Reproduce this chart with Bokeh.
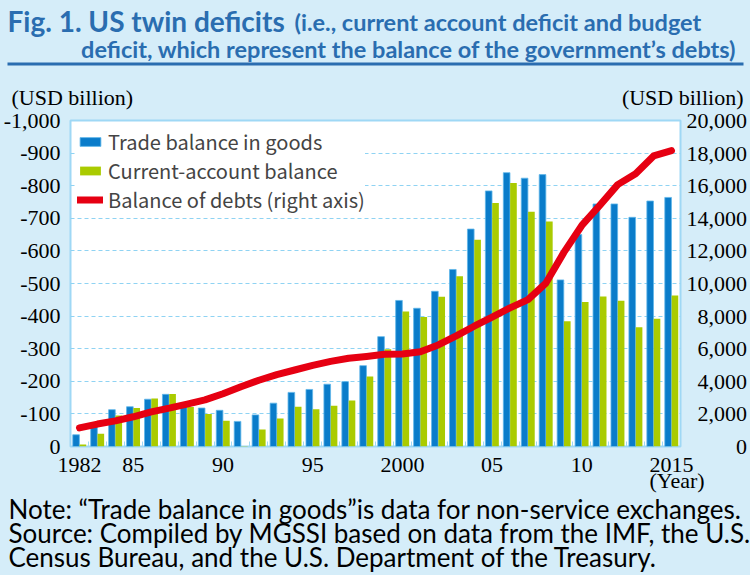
from bokeh.plotting import figure
from bokeh.layouts import column
from bokeh.models import (Range1d, FixedTicker, NumeralTickFormatter, Label, LinearAxis,
                          Legend, LegendItem, ColumnDataSource, BoxAnnotation,
                          GlobalInlineStyleSheet)
from bokeh.transform import dodge
from bokeh.embed import file_html
from bokeh.resources import INLINE

# ---------------- data ----------------
years = list(range(1982, 2016))
trade_balance = [-36, -67, -113, -122, -145, -160, -127, -118, -111, -77,
                 -97, -133, -166, -175, -191, -199, -248, -337, -448, -424,
                 -476, -543, -667, -784, -840, -823, -834, -511, -650, -744,
                 -744, -703, -753, -764]
current_account = [-6, -39, -95, -118, -147, -161, -121, -100, -79, 3,
                   -52, -86, -122, -114, -125, -141, -215, -298, -414, -397,
                   -459, -522, -634, -747, -808, -720, -690, -384, -443, -460,
                   -447, -366, -392, -463]
debt_balance = [1142, 1377, 1572, 1823, 2125, 2350, 2602, 2857, 3233, 3665,
                4065, 4411, 4693, 4974, 5225, 5413, 5526, 5656, 5674, 5807,
                6228, 6783, 7379, 7933, 8507, 9008, 10025, 11910, 13562, 14790,
                16066, 16738, 17824, 18151]
x_tick_years = [1982, 1985, 1990, 1995, 2000, 2005, 2010, 2015]
x_tick_labels = ["1982", "85", "90", "95", "2000", "05", "10", "2015\n\u2007(Year)"]
left_ticks = list(range(0, -1001, -100))
right_ticks = list(range(0, 20001, 2000))
right_tick_labels = ["0", "2,000", "4,000", "6,000", "8,000", "10,000", "12,000",
                     "14,000", "16,000", "18,000", "20,000"]

# ---------------- style ----------------
BG = "#d5edf9"
TITLE_BLUE = "#2a6db0"
BLUE = "#0a7cca"
GREEN = "#aacb00"
RED = "#e60012"
GRID = "#8fd3f3"
EDGE = "#9fd8f5"
SERIF = "Liberation Serif"
SANS = "Lato"
W = 750
TOP_H = 110
MAIN_TOP = 100
FRAME_TOP, FRAME_BOTTOM = 120, 446     # page pixels
MAIN_BORDER_BOTTOM = 60
MAIN_H = FRAME_BOTTOM - MAIN_TOP + MAIN_BORDER_BOTTOM
BOT_START = 488
BOT_H = 575 - BOT_START
FL, FR = 67, 682


def pad_right(label, full="20,000"):
    # pad with figure / punctuation spaces so that labels end flush right
    missing = full[:len(full) - len(label)]
    return "".join("\u2008" if c == "," else "\u2007" for c in missing) + label


def text_panel(height, transparent=False, margin=None):
    f = figure(width=W, height=height, output_backend="svg", toolbar_location=None,
               x_range=Range1d(0, 1), y_range=Range1d(0, 1),
               x_axis_location=None, y_axis_location=None, min_border=0)
    f.frame_align = False
    f.grid.visible = False
    f.background_fill_color = BG
    f.border_fill_color = BG
    if transparent:
        f.background_fill_alpha = 0
        f.border_fill_alpha = 0
    f.outline_line_color = None
    if margin is not None:
        f.margin = margin
    return f


def add_text(f, top, height, text, X, Y, size, font, color="#000000", style="normal",
             align="left", baseline="alphabetic"):
    # X, Y: page pixels; alphabetic baselines get a small metric correction
    y = top + height - Y
    if baseline == "alphabetic":
        y += 0.3 * size
    f.add_layout(Label(x=X, y=y, x_units="screen", y_units="screen", text=text,
                       text_font=font, text_font_size=f"{size}px", text_font_style=style,
                       text_color=color, text_align=align, text_baseline=baseline))


# ---------------- header ----------------
top = text_panel(TOP_H)
add_text(top, 0, TOP_H, "Fig. 1. US twin deficits", 7, 29, 28, SANS, TITLE_BLUE, "bold")
add_text(top, 0, TOP_H, "(i.e., current account deficit and budget", 294, 29, 23.5, SANS,
         TITLE_BLUE, "bold")
add_text(top, 0, TOP_H, "deficit, which represent the balance of the government\u2019s debts)",
         736, 56, 23.5, SANS, TITLE_BLUE, "bold", align="right")
top.add_layout(BoxAnnotation(left=7, right=743, top=TOP_H - 62, bottom=TOP_H - 65,
                             left_units="screen", right_units="screen",
                             top_units="screen", bottom_units="screen",
                             fill_color=TITLE_BLUE, fill_alpha=1, line_color=None))
add_text(top, 0, TOP_H, "(USD billion)", 11, 97, 22, SERIF, baseline="middle")
add_text(top, 0, TOP_H, "(USD billion)", 743, 97, 22, SERIF, align="right", baseline="middle")

# ---------------- main chart (slightly overlapping the header, transparent border) ----------------
p = figure(width=W, height=MAIN_H, output_backend="svg", toolbar_location=None,
           x_range=Range1d(years[0] - 0.5, years[-1] + 0.5),
           y_range=Range1d(0, -1000),
           min_border_left=FL, min_border_right=W - FR,
           min_border_top=FRAME_TOP - MAIN_TOP, min_border_bottom=MAIN_BORDER_BOTTOM)
p.frame_align = False
p.margin = (MAIN_TOP - TOP_H, 0, 0, 0)
p.extra_y_ranges = {"debt": Range1d(0, 20000)}
p.background_fill_color = "white"
p.border_fill_color = BG
p.border_fill_alpha = 0
p.outline_line_color = EDGE
p.outline_line_width = 2

xa = p.xaxis[0]
xa.ticker = FixedTicker(ticks=x_tick_years, minor_ticks=[y + 0.5 for y in years[:-1]])
xa.major_label_overrides = {y: l for y, l in zip(x_tick_years, x_tick_labels)}
xa.axis_line_color = None
xa.major_tick_line_color = None
xa.minor_tick_line_color = EDGE
xa.minor_tick_in = 5
xa.minor_tick_out = 0
xa.major_label_standoff = -1
xa.major_label_text_font = SERIF
xa.major_label_text_font_size = "22px"
xa.major_label_text_line_height = 0.65
xa.major_label_text_color = "#000000"

ya = p.yaxis[0]
ya.ticker = FixedTicker(ticks=left_ticks)
ya.formatter = NumeralTickFormatter(format="0,0")
ya.axis_line_color = None
ya.major_tick_line_color = None
ya.minor_tick_line_color = None
ya.major_label_standoff = 4
ya.major_label_text_font = SERIF
ya.major_label_text_font_size = "22px"
ya.major_label_text_color = "#000000"

ra = LinearAxis(y_range_name="debt", ticker=FixedTicker(ticks=right_ticks))
ra.major_label_overrides = {v: pad_right(l) for v, l in zip(right_ticks, right_tick_labels)}
ra.axis_line_color = None
ra.major_tick_line_color = None
ra.minor_tick_line_color = None
ra.major_label_standoff = 0
ra.major_label_text_font = SERIF
ra.major_label_text_font_size = "22px"
ra.major_label_text_color = "#000000"
p.add_layout(ra, "right")

p.xgrid.grid_line_color = None
p.ygrid.grid_line_color = GRID
p.ygrid.grid_line_dash = "4 3"
p.ygrid.grid_line_width = 1

src = ColumnDataSource(dict(year=years, trade=trade_balance, current=current_account,
                            debt=debt_balance))
r_trade = p.vbar(x=dodge("year", -0.19, range=p.x_range), top="trade", bottom=0, width=0.37,
                 source=src, fill_color=BLUE, line_color="#5fb6ea", line_width=0.8)
r_cur = p.vbar(x=dodge("year", 0.19, range=p.x_range), top="current", bottom=0, width=0.37,
               source=src, fill_color=GREEN, line_color=None)
r_debt = p.line(x="year", y="debt", source=src, y_range_name="debt", line_color=RED,
                line_width=7, line_cap="round", line_join="round")

legend = Legend(items=[LegendItem(label="Trade balance in goods", renderers=[r_trade]),
                       LegendItem(label="Current-account balance", renderers=[r_cur]),
                       LegendItem(label="Balance of debts (right axis)", renderers=[r_debt])],
                location="top_left", margin=7, padding=5, spacing=0,
                glyph_width=26, glyph_height=11, label_standoff=5,
                label_text_font="Noto Sans CJK JP", label_text_font_size="20px",
                label_height=20, border_line_color=None,
                background_fill_color="white", background_fill_alpha=1)
p.add_layout(legend)

# ---------------- notes (overlapping the bottom of the chart, transparent) ----------------
overlap = MAIN_TOP + MAIN_H - BOT_START
bot = text_panel(BOT_H, transparent=True, margin=(-overlap, 0, 0, 0))
add_text(bot, BOT_START, BOT_H, "Note: \u201cTrade balance in goods\u201dis data for non-service exchanges.",
         8, 516, 26, SANS)
add_text(bot, BOT_START, BOT_H, "Source: Compiled by MGSSI based on data from the IMF, the U.S.",
         8, 540, 26, SANS)
add_text(bot, BOT_START, BOT_H, "Census Bureau, and the U.S. Department of the Treasury.",
         8, 564, 26, SANS)

page = column(top, p, bot, spacing=0)
page.stylesheets = [GlobalInlineStyleSheet(
    css="html,body{margin:0 !important;padding:0;background:%s;overflow:hidden;}" % BG)]

open("out.html", "w").write(file_html(page, INLINE))
